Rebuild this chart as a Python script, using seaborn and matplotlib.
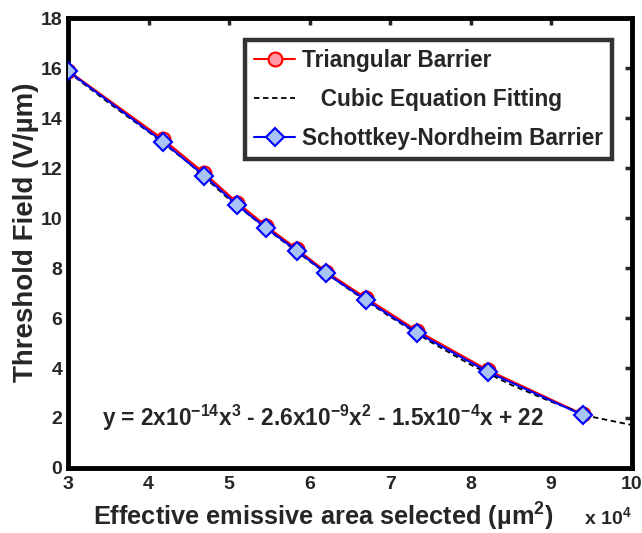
import matplotlib
matplotlib.use("Agg")
import matplotlib.pyplot as plt
import seaborn as sns
import pandas as pd

# x in units of 1e4 um^2
area = [3.0, 4.18, 4.69, 5.10, 5.46, 5.84, 6.20, 6.70, 7.33, 8.21, 9.39]
triangular = [15.9, 13.15, 11.8, 10.62, 9.68, 8.76, 7.86, 6.8, 5.5, 3.92, 2.15]
schottky = [15.88, 13.05, 11.7, 10.52, 9.6, 8.7, 7.8, 6.72, 5.42, 3.85, 2.12]
fit_x = [3.0, 3.5, 4.0, 4.5, 5.0, 5.5, 6.0, 6.5, 7.0, 7.5, 8.0, 8.5, 9.0, 9.5, 10.0]
fit_y = [15.85, 14.62, 13.45, 12.2, 10.75, 9.48, 8.27, 7.12, 6.05, 5.05, 4.13, 3.33, 2.65, 2.05, 1.72]

sns.set_style("white")
plt.rcParams['font.family'] = ['Liberation Sans', 'DejaVu Sans']
plt.rcParams['font.weight'] = 'bold'
plt.rcParams['mathtext.fontset'] = 'custom'
plt.rcParams['mathtext.rm'] = 'Liberation Sans:bold'
plt.rcParams['mathtext.it'] = 'Liberation Sans:bold'
plt.rcParams['mathtext.bf'] = 'Liberation Sans:bold'
plt.rcParams['mathtext.default'] = 'rm'

fig = plt.figure(figsize=(6.42, 5.33), dpi=100)
ax = fig.add_axes([0.106, 0.122, 0.878, 0.844])

df_t = pd.DataFrame({"x": area, "y": triangular})
df_s = pd.DataFrame({"x": area, "y": schottky})
df_f = pd.DataFrame({"x": fit_x, "y": fit_y})

sns.lineplot(data=df_t, x="x", y="y", ax=ax, color="red", lw=1.5, marker="o",
             markersize=10, markerfacecolor="#ff9aa8", markeredgecolor="red",
             markeredgewidth=1.5, label="Triangular Barrier", zorder=3)
sns.lineplot(data=df_f, x="x", y="y", ax=ax, color="black", lw=1.3,
             linestyle=(0, (3, 2)), label="   Cubic Equation Fitting", zorder=4)
sns.lineplot(data=df_s, x="x", y="y", ax=ax, color="blue", lw=1.5, marker="D",
             markersize=9, markerfacecolor="#a8c4f4", markeredgecolor="blue",
             markeredgewidth=1.5, label="Schottkey-Nordheim Barrier", zorder=5)

ax.set_xlim(3, 10)
ax.set_ylim(0, 18)
ax.set_xticks(range(3, 11))
ax.set_yticks(range(0, 19, 2))
ax.tick_params(direction="in", length=5, width=2.5, labelsize=14,
               top=True, right=True)
ax.tick_params(axis="x", pad=6)
ax.tick_params(axis="y", pad=4)
for lab in ax.get_xticklabels() + ax.get_yticklabels():
    lab.set_fontweight("bold")
for s in ax.spines.values():
    s.set_linewidth(3.5)
    s.set_color("black")

ax.set_xlabel("Effective emissive area selected (µm$^2$)", fontsize=18.3,
              fontweight="bold")
ax.xaxis.set_label_coords(0.452, -0.074)
ax.set_ylabel("Threshold Field (V/µm)", fontsize=20, fontweight="bold")
ax.yaxis.set_label_coords(-0.052, 0.524)
ax.text(1.0, -0.11, "x 10$^4$", transform=ax.transAxes, fontsize=14,
        fontweight="bold", ha="right", va="center")

ax.text(3.42, 2.0, "y = 2x10$^{-14}$x$^3$ - 2.6x10$^{-9}$x$^2$ - 1.5x10$^{-4}$x + 22",
        fontsize=16.3, fontweight="bold", va="center")

leg = ax.legend(loc="upper right", bbox_to_anchor=(0.965, 0.951), fontsize=16.3,
                frameon=True, fancybox=False, edgecolor="black",
                handlelength=1.8, handletextpad=0.3, borderpad=0.4,
                labelspacing=0.7, borderaxespad=0)
leg.get_frame().set_linewidth(3.2)
for t in leg.get_texts():
    t.set_fontweight("bold")

fig.savefig("out.png", dpi=100)
